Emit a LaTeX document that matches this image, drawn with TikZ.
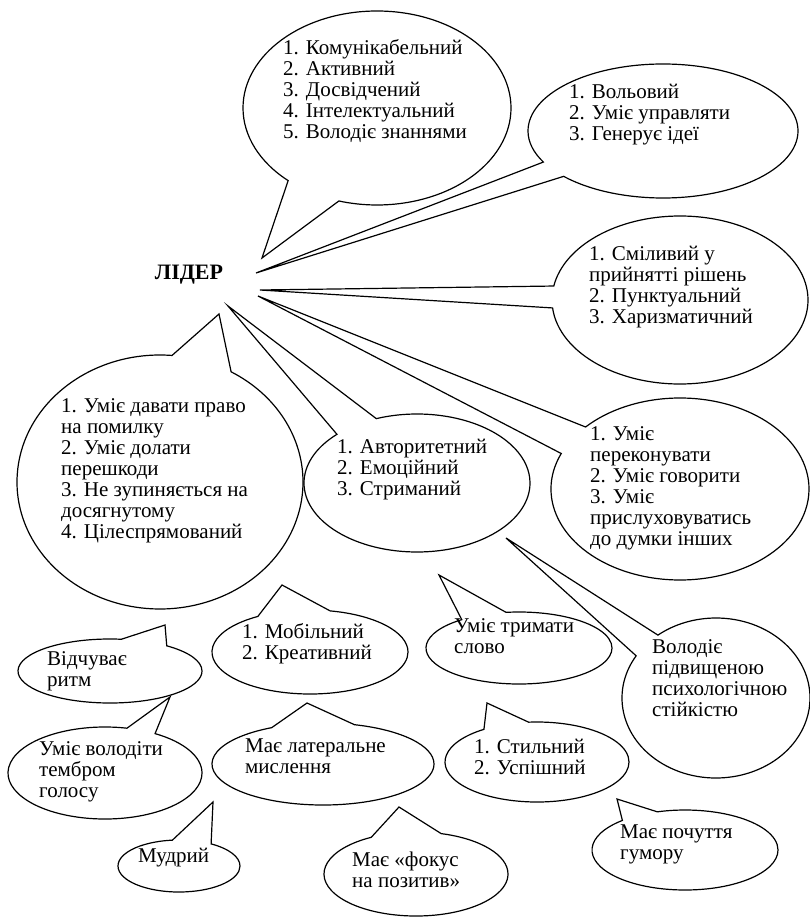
\documentclass[tikz,border=0pt]{standalone}
\usepackage{fontspec}
\setmainfont{Liberation Serif}
\usepackage{tikz}
\usetikzlibrary{shapes.callouts}
\tikzset{
	bubble/.style={ellipse callout, draw, line width=1.2pt, inner sep=0pt, outer sep=0pt},
	txt/.style={anchor=base west, align=left, inner sep=0pt, font=\fontsize{21}{21}\selectfont},
}

\begin{document}
\begin{tikzpicture}[x=1pt,y=-1pt]
	\useasboundingbox (0,0) rectangle (810,917);
	\node[font=\fontsize{22}{22}\selectfont\bfseries, anchor=base] (lider) at (189,279) {ЛІДЕР};

	\coordinate (pkom) at (262,258);
	\coordinate (pvol) at (256,273);
	\coordinate (psmil) at (260,290);
	\coordinate (pperek) at (258,296);
	\coordinate (pavt) at (228,306);
	\coordinate (pcil) at (219,314);
	\coordinate (prytm) at (165,625);
	\coordinate (ptembr) at (170,697);
	\coordinate (pmob) at (282,585);
	\coordinate (plat) at (307,703);
	\coordinate (pmudr) at (213,802);
	\coordinate (pfokus) at (399,807);
	\coordinate (pslovo) at (439,575);
	\coordinate (pstyl) at (487,703);
	\coordinate (pstiyk) at (506,538);
	\coordinate (phumor) at (617,799);

	\node[bubble, minimum width=268pt, minimum height=194pt, callout pointer arc=25, callout absolute pointer=(pkom)] (kom) at (377,108) {};
	\node[bubble, minimum width=270pt, minimum height=134pt, callout pointer arc=15, callout absolute pointer=(pvol)] (vol) at (663,131) {};
	\node[bubble, minimum width=256pt, minimum height=168pt, callout pointer arc=15, callout absolute pointer=(psmil)] (smil) at (680,300) {};
	\node[bubble, minimum width=258pt, minimum height=182pt, callout pointer arc=20, callout absolute pointer=(pperek)] (perek) at (680,489) {};
	\node[bubble, minimum width=226pt, minimum height=138pt, callout pointer arc=24, callout absolute pointer=(pavt)] (avt) at (417,483) {};
	\node[bubble, minimum width=286pt, minimum height=254pt, callout pointer arc=25, callout absolute pointer=(pcil)] (cil) at (160,482) {};
	\node[bubble, minimum width=184pt, minimum height=64pt, callout pointer arc=31, callout absolute pointer=(prytm)] (rytm) at (110,671) {};
	\node[bubble, minimum width=194pt, minimum height=92pt, callout pointer arc=18, callout absolute pointer=(ptembr)] (tembr) at (105,773) {};
	\node[bubble, minimum width=196pt, minimum height=84pt, callout pointer arc=44, callout absolute pointer=(pmob)] (mob) at (310,652) {};
	\node[bubble, minimum width=222pt, minimum height=82pt, callout pointer arc=44, callout absolute pointer=(plat)] (lat) at (323,764) {};
	\node[bubble, minimum width=122pt, minimum height=52pt, callout pointer arc=38, callout absolute pointer=(pmudr)] (mudr) at (179,866) {};
	\node[bubble, minimum width=184pt, minimum height=84pt, callout pointer arc=45, callout absolute pointer=(pfokus)] (fokus) at (416,874) {};
	\node[bubble, minimum width=186pt, minimum height=72pt, callout pointer arc=30, callout absolute pointer=(pslovo)] (slovo) at (519,648) {};
	\node[bubble, minimum width=184pt, minimum height=80pt, callout pointer arc=30, callout absolute pointer=(pstyl)] (styl) at (537,762) {};
	\node[bubble, minimum width=188pt, minimum height=160pt, callout pointer arc=20, callout absolute pointer=(pstiyk)] (stiyk) at (716,698) {};
	\node[bubble, minimum width=186pt, minimum height=80pt, callout pointer arc=25, callout absolute pointer=(phumor)] (humor) at (685,850) {};

	\node[txt] (kom-t) at (283,139) {1. Комунікабельний\\2. Активний\\3. Досвідчений\\4. Інтелектуальний\\5. Володіє знаннями};
	\node[txt] (vol-t) at (569,141) {1. Вольовий\\2. Уміє управляти\\3. Генерує ідеї};
	\node[txt] (smil-t) at (589,323) {1. Сміливий у\\прийнятті рішень\\2. Пунктуальний\\3. Харизматичний};
	\node[txt] (perek-t) at (590,545) {1. Уміє\\переконувати\\2. Уміє говорити\\3. Уміє\\прислуховуватись\\до думки інших};
	\node[txt] (avt-t) at (337,495) {1. Авторитетний\\2. Емоційний\\3. Стриманий};
	\node[txt] (cil-t) at (61,538) {1. Уміє давати право\\на помилку\\2. Уміє долати\\перешкоди\\3. Не зупиняється на\\досягнутому\\4. Цілеспрямований};
	\node[txt] (rytm-t) at (47,686) {Відчуває\\ритм};
	\node[txt] (tembr-t) at (39,797) {Уміє володіти\\тембром\\голосу};
	\node[txt] (mob-t) at (242,659) {1. Мобільний\\2. Креативний};
	\node[txt] (lat-t) at (245,773) {Має латеральне\\мислення};
	\node[txt] (mudr-t) at (138,862) {Мудрий};
	\node[txt] (fokus-t) at (352,887) {Має «фокус\\на позитив»};
	\node[txt] (slovo-t) at (454,653) {Уміє тримати\\слово};
	\node[txt] (styl-t) at (474,774) {1. Стильний\\2. Успішний};
	\node[txt] (stiyk-t) at (652,716) {Володіє\\підвищеною\\психологічною\\стійкістю};
	\node[txt] (humor-t) at (620,859) {Має почуття\\гумору};
\end{tikzpicture}
\end{document}
